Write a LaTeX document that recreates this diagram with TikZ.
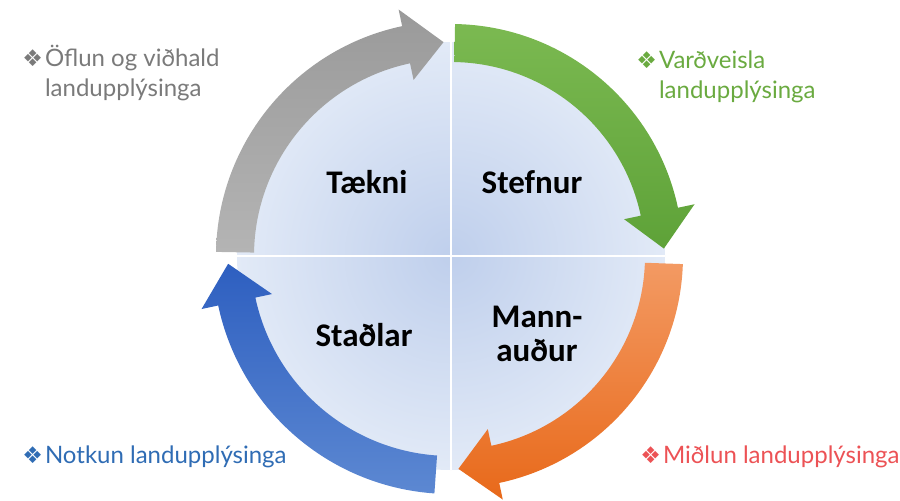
\documentclass[tikz,border=0pt]{standalone}
\usepackage{fontspec}
\setmainfont{Lato}
\newfontfamily\quadfont{Carlito}
\newfontfamily\bulfont{DejaVu Sans}
\usetikzlibrary{calc, positioning}

\definecolor{discin}{HTML}{BFCFEC}
\definecolor{discout}{HTML}{E2EAF7}
\definecolor{grayA}{HTML}{9A9A9A}
\definecolor{grayB}{HTML}{B4B4B4}
\definecolor{greenA}{HTML}{7BB951}
\definecolor{greenB}{HTML}{5EA238}
\definecolor{orangeA}{HTML}{F39A63}
\definecolor{orangeB}{HTML}{E8691A}
\definecolor{blueA}{HTML}{2E5FC0}
\definecolor{blueB}{HTML}{5C88D2}
\definecolor{graytxt}{HTML}{7A7A7A}
\definecolor{greentxt}{HTML}{6AAA40}
\definecolor{bluetxt}{HTML}{2F6CB4}
\definecolor{redtxt}{HTML}{EC5255}

\newcommand{\bul}{{\bulfont\fontsize{11.5}{11.5}\selectfont ❖}\hspace{1pt}}

\begin{document}
\begin{tikzpicture}[x=0.5pt, y=0.5pt,
  quad/.style = {font=\quadfont\bfseries\fontsize{16.5}{17}\selectfont, align=center, inner sep=0pt},
  side/.style = {font=\fontsize{12}{15}\selectfont, align=left, anchor=base west, inner sep=0pt},
  divider/.style = {white, line width=1pt}]
\useasboundingbox (0,0) rectangle (900,500);
\coordinate (c) at (451,244);

% disc with four quarters
\shade[inner color=discin, outer color=discout] (c) circle[radius=214];
\draw[divider] ($(c)+(0,214)$) -- ($(c)+(0,-214)$);
\draw[divider] ($(c)+(-214,0)$) -- ($(c)+(214,0)$);

% arrows
\shade[top color=grayA, bottom color=grayB]
  ($(c)+(179:235)$) arc[start angle=179, end angle=102, radius=235]
  -- ($(c)+(102:252)$) -- ($(c)+(92:214)$) -- ($(c)+(102:180)$)
  -- ($(c)+(102:197)$) arc[start angle=102, end angle=179, radius=197] -- cycle;
\shade[top color=greenA, bottom color=greenB]
  ($(c)+(89:232)$) arc[start angle=89, end angle=12, radius=232]
  -- ($(c)+(12:249)$) -- ($(c)+(2:213)$) -- ($(c)+(12:177)$)
  -- ($(c)+(12:194)$) arc[start angle=12, end angle=89, radius=194] -- cycle;
\shade[top color=orangeA, bottom color=orangeB]
  ($(c)+(-2:232)$) arc[start angle=-2, end angle=-78, radius=232]
  -- ($(c)+(-78:249)$) -- ($(c)+(-88:213)$) -- ($(c)+(-78:177)$)
  -- ($(c)+(-78:194)$) arc[start angle=-78, end angle=-2, radius=194] -- cycle;
\shade[top color=blueA, bottom color=blueB]
  ($(c)+(-94:238)$) arc[start angle=-94, end angle=-168, radius=238]
  -- ($(c)+(-168:255)$) -- ($(c)+(-178:223)$) -- ($(c)+(-168:183)$)
  -- ($(c)+(-168:200)$) arc[start angle=-168, end angle=-94, radius=200] -- cycle;

% quarter labels
\node[quad] (taekni) at (367,318) {Tækni};
\node[quad] (stefnur) at (532,318) {Stefnur};
\node[quad] (stadlar) at (364,165) {Staðlar};
\node[quad] (mannaudur) at (537,166) {Mann-\\auður};

% side labels (base = last line)
\node[side, text=graytxt] (oflun) at (22,404) {\bul Öflun og viðhald\\\phantom{\bul}landupplýsinga};
\node[side, text=greentxt] (vardveisla) at (636,402) {\bul Varðveisla\\\phantom{\bul}landupplýsinga};
\node[side, text=bluetxt] (notkun) at (22,37) {\bul Notkun landupplýsinga};
\node[side, text=redtxt] (midlun) at (640,37) {\bul Miðlun landupplýsinga};
\end{tikzpicture}
\end{document}
